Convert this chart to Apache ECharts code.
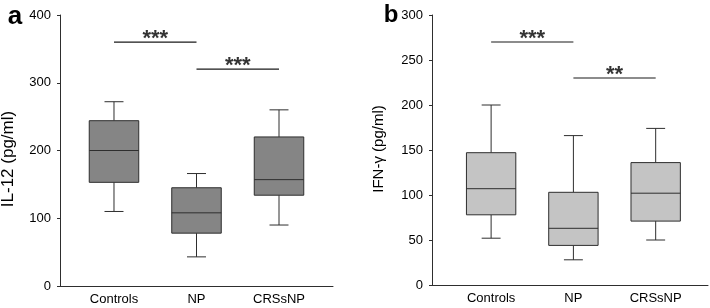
<!DOCTYPE html>
<html>
<head>
<meta charset="utf-8">
<script src="https://cdn.jsdelivr.net/npm/echarts@6/dist/echarts.min.js"></script>
<style>
  html, body { margin: 0; padding: 0; background: #fff; }
  #main { width: 710px; height: 308px; }
</style>
</head>
<body>
<div id="main"></div>
<script>
// groups on the x axis
var categories = ['Controls', 'NP', 'CRSsNP'];
// [min, Q1, median, Q3, max] per group
var il12Stats = [[110, 153, 200, 244, 272], [43, 78, 108, 145, 166], [90, 134, 157, 220, 260]];
var ifngStats = [[52, 78, 107, 147, 200], [28, 44, 63, 103, 166], [50, 71, 102, 136, 174]];
// significance brackets: [from group, to group, level, stars]
var il12Sig = [[1, 2, 360, '***'], [2, 3, 320, '***']];
var ifngSig = [[1, 2, 270, '***'], [2, 3, 230, '**']];
// y axis ranges
var il12Axis = { min: 0, max: 400, interval: 100 };
var ifngAxis = { min: 0, max: 300, interval: 50 };

var font = 'Liberation Sans, Arial, sans-serif';
var ink = '#2e2e2e';

function boxData(stats) {
  return stats.map(function (s, i) { return [i + 1].concat(s); });
}

function makeRender(fill) {
  return function (params, api) {
    var x = api.value(0);
    var lo = api.coord([x, api.value(1)]);
    var q1 = api.coord([x, api.value(2)]);
    var md = api.coord([x, api.value(3)]);
    var q3 = api.coord([x, api.value(4)]);
    var hi = api.coord([x, api.value(5)]);
    var half = api.size([0.6, 0])[0] / 2;
    var cap = api.size([0.23, 0])[0] / 2;
    var cx = lo[0];
    var ls = { stroke: ink, lineWidth: 1 };
    return {
      type: 'group',
      children: [
        { type: 'line', shape: { x1: cx, y1: hi[1], x2: cx, y2: q3[1] }, style: ls },
        { type: 'line', shape: { x1: cx, y1: q1[1], x2: cx, y2: lo[1] }, style: ls },
        { type: 'line', shape: { x1: cx - cap, y1: hi[1], x2: cx + cap, y2: hi[1] }, style: ls },
        { type: 'line', shape: { x1: cx - cap, y1: lo[1], x2: cx + cap, y2: lo[1] }, style: ls },
        { type: 'rect', shape: { x: cx - half, y: q3[1], width: half * 2, height: q1[1] - q3[1] },
          style: { fill: fill, stroke: ink, lineWidth: 1 } },
        { type: 'line', shape: { x1: cx - half, y1: md[1], x2: cx + half, y2: md[1] }, style: ls }
      ]
    };
  };
}

function xAxisFor(idx, min, max) {
  return {
    type: 'value', gridIndex: idx, min: min, max: max,
    axisLine: { show: true, lineStyle: { color: ink, width: 1 } },
    axisTick: { show: false },
    splitLine: { show: false },
    axisLabel: {
      customValues: [1, 2, 3],
      formatter: function (v) { return categories[Math.round(v) - 1] || ''; },
      color: '#000', fontSize: 13, fontFamily: font, margin: 7
    }
  };
}

function yAxisFor(idx, ax) {
  return {
    type: 'value', gridIndex: idx, min: ax.min, max: ax.max, interval: ax.interval,
    axisLine: { show: true, lineStyle: { color: ink, width: 1 } },
    axisTick: { show: true, inside: false, length: 3, lineStyle: { color: ink } },
    splitLine: { show: false },
    axisLabel: { color: '#000', fontSize: 13, fontFamily: font, margin: 9 }
  };
}

function sigSeries(idx, sig) {
  var out = [];
  sig.forEach(function (s) {
    out.push({
      type: 'line', xAxisIndex: idx, yAxisIndex: idx, symbol: 'none', silent: true,
      data: [[s[0], s[2]], [s[1], s[2]]],
      lineStyle: { color: '#1a1a1a', width: 1.2 }
    });
    out.push({
      type: 'scatter', xAxisIndex: idx, yAxisIndex: idx, symbolSize: 0, silent: true,
      data: [[(s[0] + s[1]) / 2, s[2]]],
      label: { show: true, position: 'inside', offset: [0, -3], formatter: s[3],
        fontSize: 22, fontWeight: 'bold', fontFamily: font, color: '#000' }
    });
  });
  return out;
}

var chart = echarts.init(document.getElementById('main'));
chart.setOption({
  animation: false,
  backgroundColor: '#fff',
  grid: [
    { left: 60, top: 15, width: 273, bottom: 22 },
    { left: 432, top: 15, width: 276, bottom: 23 }
  ],
  xAxis: [xAxisFor(0, 0.3455, 3.6545), xAxisFor(1, 0.2814, 3.636)],
  yAxis: [yAxisFor(0, il12Axis), yAxisFor(1, ifngAxis)],
  graphic: [
    { type: 'text', x: 15, y: 17, style: { text: 'a', font: 'bold 26px ' + font, fill: '#000',
      textAlign: 'center', textVerticalAlign: 'middle' } },
    { type: 'text', x: 391, y: 15, style: { text: 'b', font: 'bold 24px ' + font, fill: '#000',
      textAlign: 'center', textVerticalAlign: 'middle' } },
    { type: 'text', x: 8, y: 159, rotation: Math.PI / 2, style: { text: 'IL-12 (pg/ml)',
      font: '17px ' + font, fill: '#000', textAlign: 'center', textVerticalAlign: 'middle' } },
    { type: 'text', x: 379, y: 149, rotation: Math.PI / 2, style: { text: 'IFN-\u03b3 (pg/ml)',
      font: '15px ' + font, fill: '#000', textAlign: 'center', textVerticalAlign: 'middle' } }
  ],
  series: [
    { type: 'custom', xAxisIndex: 0, yAxisIndex: 0, renderItem: makeRender('#858585'),
      encode: { x: 0, y: [1, 2, 3, 4, 5] }, data: boxData(il12Stats) },
    { type: 'custom', xAxisIndex: 1, yAxisIndex: 1, renderItem: makeRender('#c4c4c4'),
      encode: { x: 0, y: [1, 2, 3, 4, 5] }, data: boxData(ifngStats) }
  ].concat(sigSeries(0, il12Sig)).concat(sigSeries(1, ifngSig))
});
</script>
</body>
</html>
